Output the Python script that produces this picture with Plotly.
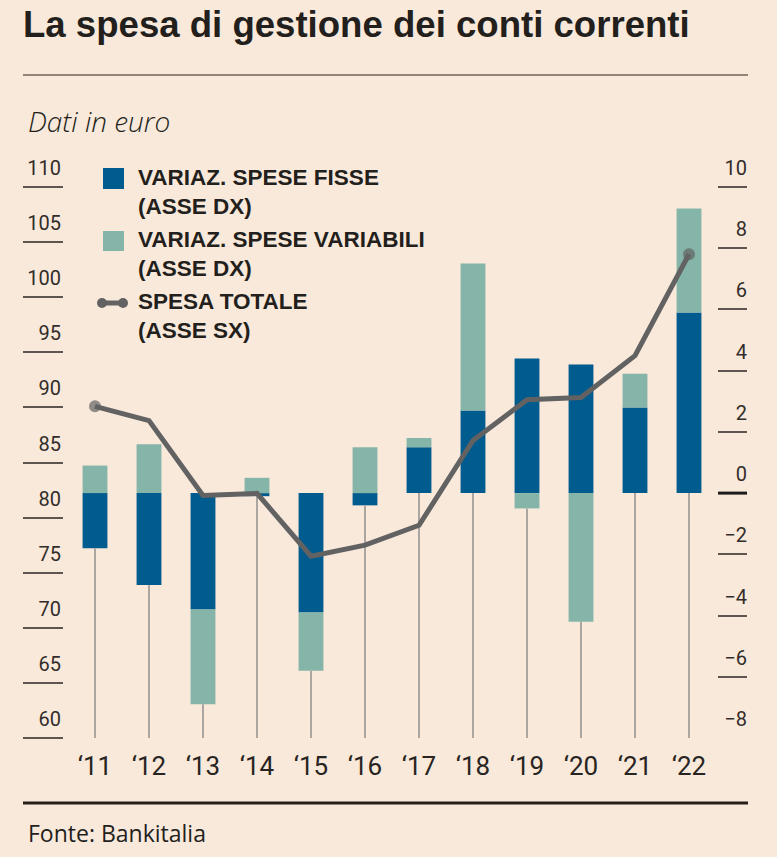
import plotly.graph_objects as go

# ---------------- data ----------------
years = ["‘11", "‘12", "‘13", "‘14", "‘15", "‘16", "‘17", "‘18", "‘19", "‘20", "‘21", "‘22"]
fixed_change = [-1.8, -3.0, -3.8, -0.1, -3.9, -0.4, 1.5, 2.7, 4.4, 4.2, 2.8, 5.9]
variable_change = [0.9, 1.6, -3.1, 0.5, -1.9, 1.5, 0.3, 4.8, -0.5, -4.2, 1.1, 3.4]
total_spend = [90.1, 88.8, 82.0, 82.2, 76.5, 77.5, 79.3, 87.0, 90.7, 90.9, 94.7, 103.9]

left_ticks = [60, 65, 70, 75, 80, 85, 90, 95, 100, 105, 110]
right_ticks = [-8, -6, -4, -2, 0, 2, 4, 6, 8, 10]

name_fixed = ["VARIAZ. SPESE FISSE", "(ASSE DX)"]
name_variable = ["VARIAZ. SPESE VARIABILI", "(ASSE DX)"]
name_total = ["SPESA TOTALE", "(ASSE SX)"]

title = "La spesa di gestione dei conti correnti"
subtitle = "Dati in euro"
source = "Fonte: Bankitalia"

# ---------------- style ----------------
W, H = 777, 857
L, R, T, B = 64, 30, 150, 119
AX_TOP_PX, AX_BOT_PX = 187, 738     # pixel rows of top / bottom ticks
BG = "rgb(249,233,219)"
DARK = "rgb(0,91,143)"
LIGHT = "rgb(133,181,168)"
LINE = "rgb(98,98,98)"
STEM = "rgb(172,166,160)"
TXT = "rgb(35,31,28)"
TICK = "rgb(95,85,80)"

PW = W - L - R
PH = H - T - B


def px(x):
    return (x - L) / PW


def py(y):
    return (H - B - y) / PH


# extend axis ranges so the top tick sits at AX_TOP_PX while the plot area starts higher
extra = (AX_TOP_PX - T) / (AX_BOT_PX - AX_TOP_PX)
r_span = right_ticks[-1] - right_ticks[0]
l_span = left_ticks[-1] - left_ticks[0]
right_range = [right_ticks[0], right_ticks[-1] + extra * r_span]
left_range = [left_ticks[0], left_ticks[-1] + extra * l_span]

fig = go.Figure()

# stems below each bar, from axis bottom up to lowest bar end
stem_x, stem_y = [], []
for c, f, v in zip(years, fixed_change, variable_change):
    low = min(0, min(f, 0) + min(v, 0))
    stem_x += [c, c, None]
    stem_y += [right_ticks[0], low, None]
fig.add_trace(go.Scatter(x=stem_x, y=stem_y, mode="lines",
                         line=dict(color=STEM, width=2), yaxis="y",
                         hoverinfo="skip", showlegend=False))

fig.add_trace(go.Bar(x=years, y=fixed_change, name=" ".join(name_fixed),
                     marker=dict(color=DARK, line=dict(width=0)), width=0.46,
                     yaxis="y", showlegend=False))
fig.add_trace(go.Bar(x=years, y=variable_change, name=" ".join(name_variable),
                     marker=dict(color=LIGHT, line=dict(width=0)), width=0.46,
                     yaxis="y", showlegend=False))

sizes = [12] + [0] * (len(years) - 2) + [12]
fig.add_trace(go.Scatter(x=years, y=total_spend, name=" ".join(name_total),
                         mode="lines+markers",
                         line=dict(color=LINE, width=5),
                         marker=dict(color=LINE, size=sizes, line=dict(width=0)),
                         yaxis="y2", showlegend=False))

tickfont = dict(family="Roboto", size=20, color="rgb(50,45,42)")

fig.update_layout(
    width=W, height=H, autosize=False,
    margin=dict(l=L, r=R, t=T, b=B, pad=0),
    paper_bgcolor=BG, plot_bgcolor=BG,
    barmode="relative",
    showlegend=False,
    title=dict(text="<b>" + title + "</b>", x=23 / W, xref="container", xanchor="left",
               y=1 - 24 / H, yref="container", yanchor="middle",
               font=dict(family="Liberation Sans", size=36.6, color=TXT)),
    xaxis=dict(type="category", categoryorder="array", categoryarray=years,
               range=[-(95 - L) / 54, len(years) - 1 + (W - R - 689) / 54],
               showgrid=False, zeroline=False, showline=False, ticks="",
               tickfont=dict(family="Roboto", size=26, color="rgb(40,36,33)"),
               ticklabelstandoff=10, fixedrange=True),
    yaxis=dict(side="right", range=right_range,
               tickvals=right_ticks, showgrid=False, zeroline=False, showline=False,
               ticks="inside", ticklen=29, tickwidth=1.5, tickcolor=TICK,
               ticklabelposition="inside", ticklabelshift=-19, ticklabelstandoff=-28,
               tickfont=tickfont),
    yaxis2=dict(side="left", overlaying="y", anchor="x",
                range=left_range, tickvals=left_ticks,
                showgrid=False, zeroline=False, showline=False,
                ticks="outside", ticklen=40, tickwidth=1.5, tickcolor=TICK,
                ticklabelstandoff=-42, ticklabelshift=-19,
                tickfont=tickfont),
)

shapes = [
    dict(type="line", xref="paper", yref="paper", x0=px(23), x1=px(748), y0=py(75), y1=py(75),
         line=dict(color="rgb(110,98,90)", width=1.5)),
    dict(type="line", xref="paper", yref="paper", x0=px(23), x1=px(748), y0=py(803), y1=py(803),
         line=dict(color="rgb(40,30,25)", width=3)),
    dict(type="line", xref="paper", yref="y", x0=px(718), x1=1, y0=0, y1=0,
         line=dict(color="rgb(30,28,26)", width=3)),
    # legend symbols
    dict(type="rect", xref="paper", yref="paper", x0=px(103), x1=px(124), y0=py(168), y1=py(189),
         fillcolor=DARK, line=dict(width=0)),
    dict(type="rect", xref="paper", yref="paper", x0=px(103), x1=px(124), y0=py(231), y1=py(251),
         fillcolor=LIGHT, line=dict(width=0)),
    dict(type="line", xref="paper", yref="paper", x0=px(102), x1=px(123), y0=py(303), y1=py(303),
         line=dict(color=LINE, width=5)),
    dict(type="circle", xref="paper", yref="paper", x0=px(97), x1=px(107), y0=py(298), y1=py(308),
         fillcolor=LINE, line=dict(width=0)),
    dict(type="circle", xref="paper", yref="paper", x0=px(118), x1=px(128), y0=py(298), y1=py(308),
         fillcolor=LINE, line=dict(width=0)),
]
fig.update_layout(shapes=shapes)

annotations = []
legend_font = dict(family="Liberation Sans", size=22.5, color=TXT)
for lines, yc in [(name_fixed, 192), (name_variable, 254), (name_total, 316)]:
    annotations.append(dict(text="<br>".join("<b>" + t + "</b>" for t in lines),
                            xref="paper", yref="paper", align="left",
                            x=px(136), y=py(yc), xanchor="left", yanchor="middle",
                            showarrow=False, font=legend_font))
annotations.append(dict(text="<i>" + subtitle + "</i>", xref="paper", yref="paper",
                        x=px(26), y=py(121), xanchor="left", yanchor="middle", showarrow=False,
                        font=dict(family="Open Sans", size=28, color=TXT, weight=300)))
annotations.append(dict(text=source, xref="paper", yref="paper",
                        x=px(26), y=py(833), xanchor="left", yanchor="middle", showarrow=False,
                        font=dict(family="Open Sans", size=23, color=TXT)))
fig.update_layout(annotations=annotations)

fig.write_html("out.html", config={"displayModeBar": False},
               post_script="document.body.style.margin='0';")
